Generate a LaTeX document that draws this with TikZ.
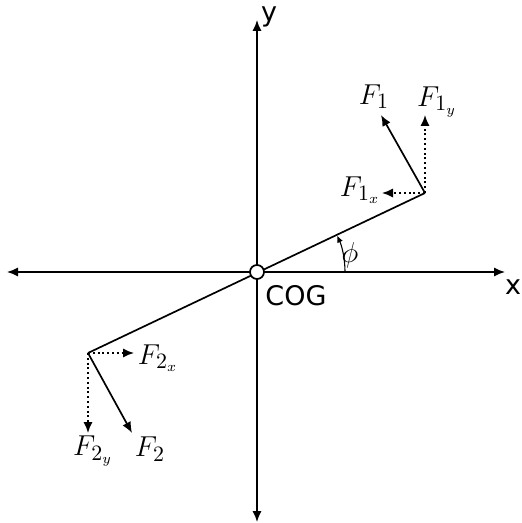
\documentclass[tikz,border=0pt]{standalone}
\usepackage{fontspec}
\newfontfamily\labfont{DejaVu Sans}
\usetikzlibrary{arrows.meta}
\begin{document}
\begin{tikzpicture}[x=0.5pt,y=-0.5pt,
  ln/.style={line width=0.85pt},
  tip/.style={-{Latex[length=5.5pt,width=4.6pt]}},
  dot/.style={line width=0.85pt,dash pattern=on 1pt off 1.4pt},
  mlab/.style={font=\fontsize{15}{17}\selectfont},
  slab/.style={font=\labfont\fontsize{13.5}{15}\selectfont}]
\useasboundingbox (0,0) rectangle (521,523);
% points
\coordinate (O) at (257,272);
\coordinate (P1) at (425,193);
\coordinate (P2) at (88,353);
\coordinate (xr) at (505,272);
\coordinate (xl) at (7,272);
\coordinate (yt) at (257,20);
\coordinate (yb) at (257,522);
\coordinate (t1) at (381,115);
\coordinate (t1y) at (425,115);
\coordinate (t1x) at (382,193);
\coordinate (t2) at (132,433);
\coordinate (t2x) at (134,353);
\coordinate (t2y) at (88,433);
% axes
\draw[ln,tip] (O) -- (xr);
\draw[ln,tip] (O) -- (xl);
\draw[ln,tip] (O) -- (yt);
\draw[ln,tip] (O) -- (yb);
% rod
\draw[ln] (P2) -- (P1);
% forces
\draw[ln,tip] (P1) -- (t1);
\draw[dot,tip] (P1) -- (t1y);
\draw[dot,tip] (P1) -- (t1x);
\draw[ln,tip] (P2) -- (t2);
\draw[dot,tip] (P2) -- (t2x);
\draw[dot,tip] (P2) -- (t2y);
% angle
\draw[line width=0.55pt,-{Latex[length=3.5pt,width=3pt]}] ([xshift=44pt]O) arc[start angle=0,end angle=24.5,radius=44pt];
% COG circle
\node[circle,draw,fill=white,line width=0.85pt,minimum size=7pt,inner sep=0pt] (cog) at (O) {};
% labels
\node[slab] (ylab) at (269,17) {y};
\node[slab] (xlab) at (513,287) {x};
\node[slab] (coglab) at (296,296) {COG};
\node[mlab] (phi) at (350,255) {$\phi$};
\node[mlab] (f1) at (374,97) {$F_1$};
\node[mlab] (f1y) at (437,102) {$F_{1_y}$};
\node[mlab] (f1x) at (360,190) {$F_{1_x}$};
\node[mlab] (f2x) at (158,358) {$F_{2_x}$};
\node[mlab] (f2y) at (93,451) {$F_{2_y}$};
\node[mlab] (f2) at (150,449) {$F_2$};
\end{tikzpicture}
\end{document}
